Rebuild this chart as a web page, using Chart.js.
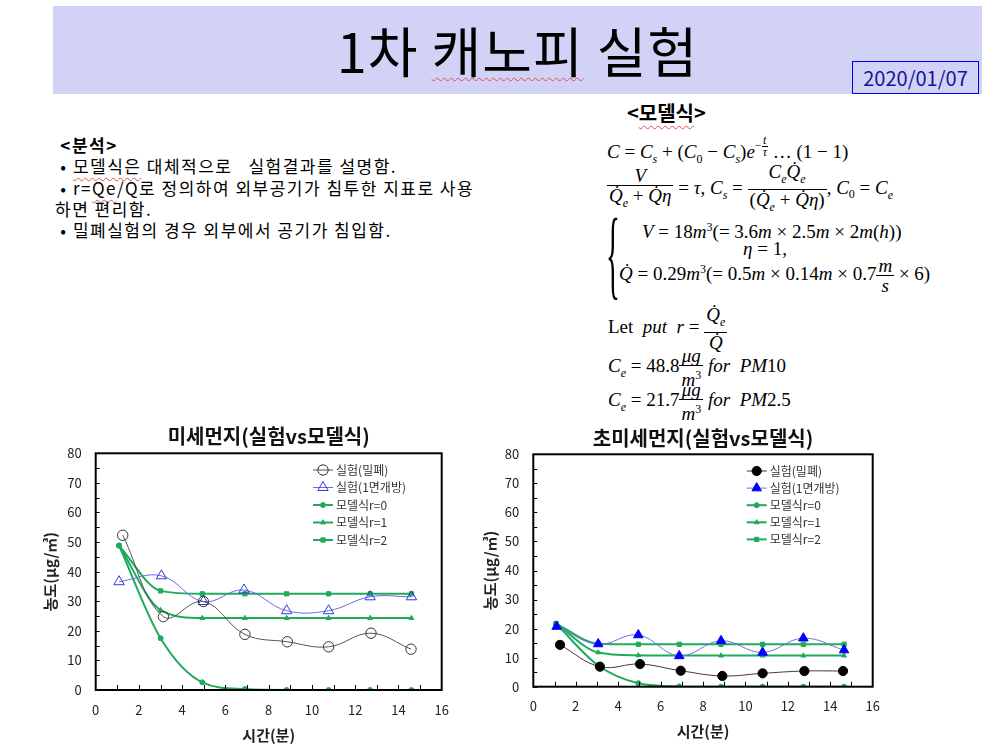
<!DOCTYPE html>
<html><head><meta charset="utf-8">
<script src="https://cdn.jsdelivr.net/npm/chart.js@4.4.1/dist/chart.umd.min.js"></script>
<style>
body{margin:0;width:993px;height:747px;position:relative;background:#fff;overflow:hidden;font-family:"Noto Sans CJK KR","Noto Sans",sans-serif;color:#000;}
.abs{position:absolute;white-space:nowrap;}
#hdr{left:53px;top:6px;width:929px;height:88px;background:#d2d2f7;}
#ttl{left:53px;width:929px;top:19px;text-align:center;font-size:54px;line-height:62px;font-weight:400;letter-spacing:1px;}
#date{left:852px;top:61px;width:125px;height:31px;border:1.6px solid #0000ee;font-size:20px;line-height:31px;text-align:center;color:#141496;}
.wavy{text-decoration:underline wavy #e05050;text-decoration-thickness:1px;text-underline-offset:4px;}
#ana{left:55px;top:134px;font-size:17px;line-height:21.3px;letter-spacing:1.5px;}
#ana b{font-weight:700;}
.m{font-family:"Liberation Serif","DejaVu Serif",serif;font-size:19px;line-height:22px;}
.m i{font-style:italic;}
.frac{display:inline-block;vertical-align:middle;text-align:center;line-height:19px;}
.frac>span{display:block;padding:0 2px;}
.frac>span.n{border-bottom:1px solid #000;}
.supf{display:inline-block;vertical-align:9px;font-size:12px;line-height:11px;}
.supf .frac{line-height:11px;}
.supf .frac>span{padding:0 1px;}
sub,sup{font-size:12px;}
#ana2{left:627px;top:101px;font-size:20px;font-weight:700;line-height:24px;}
canvas{position:absolute;}
</style></head>
<body>
<div id="hdr" class="abs"></div>
<div id="ttl" class="abs">1차 <span class="wavy">캐노피</span> 실험</div>
<div id="date" class="abs">2020/01/07</div>

<div id="ana" class="abs"><b>&nbsp;&lt;분석&gt;</b><br>&nbsp;• <span class="wavy">모델식은</span> 대체적으로&nbsp;&nbsp; 실험결과를 설명함.<br>&nbsp;• r=<span class="wavy">Qe</span>/Q로 정의하여 외부공기가 침투한 지표로 사용<br>하면 편리함.<br>&nbsp;• 밀폐실험의 경우 외부에서 공기가 침입함.</div>

<div id="ana2" class="abs">&lt;<span class="wavy">모델식</span>&gt;</div>

<div class="abs m" style="left:607px;top:135px"><i>C</i> = <i>C<sub>s</sub></i> + (<i>C</i><sub>0</sub> − <i>C<sub>s</sub></i>)<i>e</i><span class="supf">−<span class="frac"><span class="n"><i>t</i></span><span><i>τ</i></span></span></span> … (1 − 1)</div>

<div class="abs m" style="left:607px;top:162px"><span class="frac"><span class="n">&nbsp;<i>V</i>&nbsp;</span><span><i>Q̇<sub>e</sub></i> + <i>Q̇η</i></span></span> = <i>τ</i>, <i>C<sub>s</sub></i> = <span class="frac"><span class="n"><i>C<sub>e</sub>Q̇<sub>e</sub></i></span><span>(<i>Q̇<sub>e</sub></i> + <i>Q̇η</i>)</span></span>, <i>C</i><sub>0</sub> = <i>C<sub>e</sub></i></div>

<div class="abs" style="left:606px;top:203px;font-family:'Liberation Serif',serif;font-size:32px;line-height:32px;transform:scale(0.9,3.1);transform-origin:0 0;">{</div>
<div class="abs m" style="left:642px;top:216px"><i>V</i> = 18<i>m</i><sup>3</sup>(= 3.6<i>m</i> × 2.5<i>m</i> × 2<i>m</i>(<i>h</i>))</div>
<div class="abs m" style="left:743px;top:238px"><i>η</i> = 1,</div>
<div class="abs m" style="left:619px;top:256px"><i>Q̇</i> = 0.29<i>m</i><sup>3</sup>(= 0.5<i>m</i> × 0.14<i>m</i> × 0.7<span class="frac"><span class="n"><i>m</i></span><span><i>s</i></span></span> × 6)</div>

<div class="abs m" style="left:608px;top:305px">Let&nbsp; <i>put</i>&nbsp; <i>r</i> = <span class="frac"><span class="n"><i>Q̇<sub>e</sub></i></span><span><i>Q̇</i></span></span></div>
<div class="abs m" style="left:608px;top:346px"><i>C<sub>e</sub></i> = 48.8<span class="frac"><span class="n"><i>μg</i></span><span><i>m</i><sup>3</sup></span></span> <i>for&nbsp; PM</i>10</div>
<div class="abs m" style="left:608px;top:380px"><i>C<sub>e</sub></i> = 21.7<span class="frac"><span class="n"><i>μg</i></span><span><i>m</i><sup>3</sup></span></span> <i>for&nbsp; PM</i>2.5</div>

<canvas id="c1" width="430" height="327" style="left:40px;top:420px"></canvas>
<canvas id="c2" width="430" height="327" style="left:470px;top:420px"></canvas>

<script>
// ---------- data ----------
const seriesLabels = ['실험(밀폐)', '실험(1면개방)', '모델식r=0', '모델식r=1', '모델식r=2'];
const xTicksMax = 16, yTicksMax = 80;

// PM10 (미세먼지)
const pm10TimeClosed = [1.25, 3.13, 4.98, 6.9, 8.86, 10.77, 12.73, 14.58];
const pm10Closed     = [52.3, 24.8, 29.9, 18.8, 16.3, 14.6, 19.2, 13.8];
const pm10TimeOpen   = [1.08, 3.04, 4.98, 6.86, 8.83, 10.77, 12.69, 14.6];
const pm10Open       = [36.6, 38.6, 29.9, 33.8, 26.8, 26.8, 31.5, 31.5];
const pm10TimeModel  = [1.08, 3.0, 4.93, 6.9, 8.83, 10.77, 12.69, 14.6];
const pm10ModelR0    = [48.8, 17.5, 2.6, 0.3, 0.0, 0.0, 0.0, 0.0];
const pm10ModelR1    = [48.8, 27.0, 24.3, 24.3, 24.3, 24.3, 24.3, 24.3];
const pm10ModelR2    = [48.8, 33.5, 32.5, 32.5, 32.5, 32.5, 32.5, 32.5];

// PM2.5 (초미세먼지)
const pm25TimeClosed = [1.26, 3.14, 5.03, 6.95, 8.91, 10.81, 12.78, 14.6];
const pm25Closed     = [14.4, 6.9, 7.8, 5.5, 3.7, 4.6, 5.4, 5.4];
const pm25TimeOpen   = [1.1, 3.06, 4.95, 6.88, 8.85, 10.81, 12.73, 14.65];
const pm25Open       = [20.7, 14.7, 17.8, 10.6, 15.8, 11.8, 16.7, 12.6];
const pm25TimeModel  = [1.07, 3.06, 4.95, 6.88, 8.85, 10.81, 12.73, 14.65];
const pm25ModelR0    = [21.7, 7.3, 1.2, 0.1, 0.0, 0.0, 0.0, 0.0];
const pm25ModelR1    = [21.7, 11.8, 10.8, 10.7, 10.7, 10.7, 10.7, 10.7];
const pm25ModelR2    = [21.7, 14.8, 14.6, 14.6, 14.6, 14.6, 14.6, 14.6];

// ---------- helpers ----------
const pts = (xs, ys) => xs.map((x, i) => ({x, y: ys[i]}));
const GREEN = '#1fab5a';
const FONT = '"Noto Sans CJK KR", "Noto Sans", sans-serif';

const framePlugin = {
  id: 'frame',
  afterDatasetsDraw(chart, args, opts) {
    const {ctx, chartArea: a, scales: {x, y}} = chart;
    ctx.save();
    ctx.strokeStyle = '#000';
    ctx.lineWidth = 1;
    ctx.beginPath();
    for (let v = y.min; v <= y.max; v += opts.yMinor) {
      const py = Math.round(y.getPixelForValue(v)) + 0.5;
      ctx.moveTo(a.left, py); ctx.lineTo(a.left + 4, py);
    }
    for (let v = x.min + opts.xMinor; v < x.max; v += opts.xMinor) {
      const px = Math.round(x.getPixelForValue(v)) + 0.5;
      ctx.moveTo(px, a.bottom); ctx.lineTo(px, a.bottom - 5);
    }
    ctx.stroke();
    ctx.lineWidth = 2;
    ctx.strokeRect(a.left, a.top, a.right - a.left, a.bottom - a.top);
    ctx.restore();
  }
};

const insideLegend = {
  id: 'insideLegend',
  afterDraw(chart, args, opts) {
    const {ctx, chartArea: a} = chart;
    ctx.save();
    ctx.font = '12px ' + FONT;
    ctx.textBaseline = 'middle';
    ctx.textAlign = 'left';
    chart.data.datasets.forEach((ds, i) => {
      const yy = a.top + opts.top + i * opts.gap;
      const x0 = a.left + opts.left;
      ctx.strokeStyle = ds.borderColor;
      ctx.lineWidth = ds.borderWidth;
      ctx.beginPath(); ctx.moveTo(x0, yy); ctx.lineTo(x0 + 20, yy); ctx.stroke();
      ctx.fillStyle = ds.pointBackgroundColor;
      ctx.strokeStyle = ds.pointBorderColor;
      ctx.lineWidth = ds.pointBorderWidth;
      Chart.helpers.drawPoint(ctx, {pointStyle: ds.pointStyle, radius: ds.pointRadius, rotation: 0, borderWidth: ds.pointBorderWidth}, x0 + 10, yy);
      ctx.fillStyle = '#333';
      ctx.fillText(ds.label, x0 + 23, yy);
    });
    ctx.restore();
  }
};

function buildChart(id, title, sets, L) {
  return new Chart(document.getElementById(id), {
    type: 'line',
    data: {datasets: sets},
    options: {
      responsive: false,
      animation: false,
      devicePixelRatio: 1,
      layout: {padding: {left: 0, right: L.right, top: 0, bottom: 0}},
      plugins: {
        legend: {display: false},
        tooltip: {enabled: false},
        title: {display: true, text: title, fullSize: false, color: '#111',
          font: {family: FONT, size: 20, weight: 'bold', lineHeight: 1.2},
          padding: {top: L.titleTop, bottom: L.titleBottom}},
        frame: {xMinor: 1, yMinor: 5},
        insideLegend: {left: L.legLeft, top: 16.7, gap: L.legGap}
      },
      scales: {
        x: {type: 'linear', min: 0, max: xTicksMax,
          grid: {display: false, drawTicks: false}, border: {display: false},
          ticks: {stepSize: 2, padding: 12, color: '#222', font: {family: FONT, size: 13}},
          title: {display: true, text: '시간(분)', color: '#222',
            font: {family: FONT, size: 15, weight: 'bold', lineHeight: 1.2},
            padding: {top: 0, bottom: L.xTitleBottom}},
          afterFit: s => { s.height = L.xH; }
        },
        y: {type: 'linear', min: 0, max: yTicksMax,
          grid: {display: false, drawTicks: false}, border: {display: false},
          ticks: {stepSize: 10, padding: 14, color: '#222', font: {family: FONT, size: 13}},
          title: {display: true, text: '농도(μg/㎥)', color: '#222',
            font: {family: FONT, size: 15, weight: 'bold', lineHeight: 1.2},
            padding: {top: L.yTitleTop, bottom: 0}},
          afterFit: s => { s.width = L.yW; }
        }
      }
    },
    plugins: [framePlugin, insideLegend]
  });
}

function modelSet(label, data, style, r) {
  return {label, data, borderColor: GREEN, borderWidth: 2, pointStyle: style, pointRadius: r,
    pointBackgroundColor: GREEN, pointBorderColor: GREEN, pointBorderWidth: 1,
    cubicInterpolationMode: 'monotone', fill: false};
}

buildChart('c1', '미세먼지(실험vs모델식)', [
  {label: seriesLabels[0], data: pts(pm10TimeClosed, pm10Closed), borderColor: '#555555', borderWidth: 1,
    pointStyle: 'circle', pointRadius: 5.2, pointBackgroundColor: 'rgba(255,255,255,0)', pointBorderColor: '#333', pointBorderWidth: 1, tension: 0.4},
  {label: seriesLabels[1], data: pts(pm10TimeOpen, pm10Open), borderColor: '#6a6ae0', borderWidth: 1,
    pointStyle: 'triangle', pointRadius: 6, pointBackgroundColor: 'rgba(255,255,255,0)', pointBorderColor: '#3535e0', pointBorderWidth: 1, tension: 0.4},
  modelSet(seriesLabels[2], pts(pm10TimeModel, pm10ModelR0), 'circle', 2.5),
  modelSet(seriesLabels[3], pts(pm10TimeModel, pm10ModelR1), 'triangle', 2.8),
  modelSet(seriesLabels[4], pts(pm10TimeModel, pm10ModelR2), 'rect', 3)
], {right: 28.3, titleTop: 4, titleBottom: 5.3, xH: 57, xTitleBottom: 3, yW: 55.7, yTitleTop: 1, legLeft: 217.3, legGap: 17.5});

buildChart('c2', '초미세먼지(실험vs모델식)', [
  {label: seriesLabels[0], data: pts(pm25TimeClosed, pm25Closed), borderColor: '#4a3535', borderWidth: 1,
    pointStyle: 'circle', pointRadius: 4.6, pointBackgroundColor: '#000', pointBorderColor: '#000', pointBorderWidth: 1, tension: 0.4},
  {label: seriesLabels[1], data: pts(pm25TimeOpen, pm25Open), borderColor: '#7070e0', borderWidth: 1,
    pointStyle: 'triangle', pointRadius: 5.5, pointBackgroundColor: '#0000ff', pointBorderColor: '#0000ff', pointBorderWidth: 1, tension: 0.4},
  modelSet(seriesLabels[2], pts(pm25TimeModel, pm25ModelR0), 'circle', 2.5),
  modelSet(seriesLabels[3], pts(pm25TimeModel, pm25ModelR1), 'triangle', 2.8),
  modelSet(seriesLabels[4], pts(pm25TimeModel, pm25ModelR2), 'rect', 3)
], {right: 27.3, titleTop: 6, titleBottom: 4.3, xH: 60.3, xTitleBottom: 6.3, yW: 63.3, yTitleTop: 11, legLeft: 213.4, legGap: 17.1});
</script>
</body></html>
